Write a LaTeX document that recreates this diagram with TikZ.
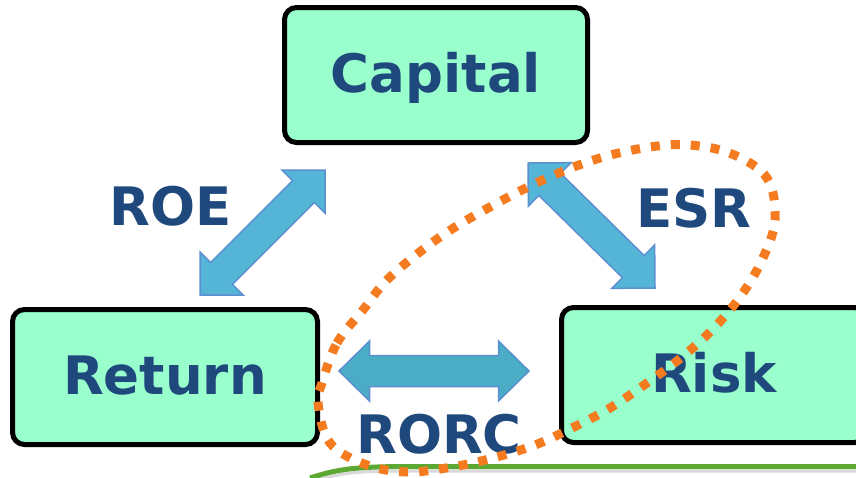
\documentclass[tikz,border=0pt]{standalone}
\usepackage{fontspec}
\newfontfamily\dejavu{DejaVu Sans}
\usetikzlibrary{calc}
\definecolor{boxfill}{HTML}{99FFCC}
\definecolor{txtblue}{HTML}{1F497D}
\definecolor{arrfill}{HTML}{55B5D6}
\definecolor{arrfillb}{HTML}{4BACC6}
\definecolor{arredge}{HTML}{5B8FD0}
\definecolor{dotorange}{HTML}{F47B20}
\definecolor{linegreen}{HTML}{5CA833}
\newcommand{\blockarrow}[6]{%
  \coordinate (ba-a1) at ($(#2)!#6!(#3)$);
  \coordinate (ba-b1) at ($(#3)!#6!(#2)$);
  \draw[#1] (#2) -- ($(ba-a1)!#4!90:(#3)$) -- ($(ba-a1)!#5!90:(#3)$)
    -- ($(ba-b1)!#5!-90:(#2)$) -- ($(ba-b1)!#4!-90:(#2)$) -- (#3)
    -- ($(ba-b1)!#4!90:(#2)$) -- ($(ba-b1)!#5!90:(#2)$)
    -- ($(ba-a1)!#5!-90:(#3)$) -- ($(ba-a1)!#4!-90:(#3)$) -- cycle;
}
\begin{document}
\begin{tikzpicture}[x=1pt,y=-1pt,
  box/.style={draw=black, line width=5pt, fill=boxfill, rounded corners=12pt,
    minimum height=135pt, inner sep=0pt, text height=34pt, text depth=0pt,
    font=\dejavu\bfseries\fontsize{53}{60}\selectfont, text=txtblue},
  lbl/.style={anchor=base, inner sep=0pt,
    font=\dejavu\bfseries\fontsize{53}{60}\selectfont, text=txtblue},
  diagarrow/.style={fill=arrfill, draw=arredge, line width=1.5pt, line join=miter},
  horarrow/.style={fill=arrfillb, draw=arredge, line width=1.5pt, line join=miter},
  dotloop/.style={draw=dotorange, line width=9pt, dash pattern=on 9pt off 11pt},
  greenline/.style={draw=linegreen, line width=5pt},
  shadowline/.style={draw=black!15, line width=3pt}]
\useasboundingbox (0,0) rectangle (856,477);
\clip (0,0) rectangle (856,477);
% green base line
\draw[shadowline] (314,481) .. controls (338,474) and (352,471) .. (400,471) -- (856,471);
\draw[greenline] (310,478) .. controls (335,470) and (350,467) .. (400,466.5) -- (856,466.5);
% boxes
\node[box, minimum width=303pt] (capital) at (436,75) {Capital};
\node[box, minimum width=305pt] (return) at (165,377) {Return};
\node[box, minimum width=305pt] (risk) at (714,375) {Risk};
% arrow end points
\coordinate (roeA) at (200,295);
\coordinate (roeB) at (325,170);
\coordinate (esrA) at (528,163);
\coordinate (esrB) at (655,288);
\coordinate (rorcA) at (339,371);
\coordinate (rorcB) at (529,371);
\blockarrow{diagarrow}{roeA}{roeB}{30.5pt}{15.5pt}{30.5pt}
\blockarrow{diagarrow}{esrA}{esrB}{30.5pt}{15.5pt}{30.5pt}
\blockarrow{horarrow}{rorcA}{rorcB}{30pt}{15.5pt}{30.5pt}
% labels
\node[lbl] (roe) at (171,225) {ROE};
\node[lbl] (esr) at (694,227) {ESR};
\node[lbl] (rorc) at (439,453) {RORC};
% dotted loop
\draw[dotloop] plot[smooth cycle, tension=0.6] coordinates {
  (322,383) (337,343) (363,310) (390,277) (440,237) (490,207) (547,178)
  (600,158) (650,147) (690,145) (732,154) (767,178) (775,220) (762,260)
  (740,297) (712,330) (682,357) (647,383) (610,408) (572,428) (535,445)
  (493,458) (452,467) (408,472) (367,465) (330,443) (318,403)};
\end{tikzpicture}
\end{document}
